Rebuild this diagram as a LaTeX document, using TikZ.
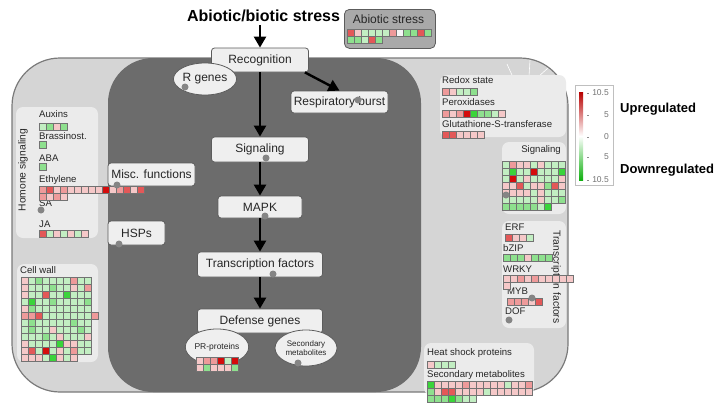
\documentclass[tikz,border=0pt]{standalone}
\usepackage{fontspec}
\setmainfont{Liberation Sans}
\usetikzlibrary{arrows.meta,shapes.geometric,positioning}

\definecolor{outerfill}{HTML}{D5D5D5}
\definecolor{outerline}{HTML}{7A7A7A}
\definecolor{darkfill}{HTML}{6C6C6C}
\definecolor{panelfill}{HTML}{EBEBEB}
\definecolor{boxfill}{HTML}{EFEFEF}
\definecolor{boxline}{HTML}{5C5C5C}
\definecolor{abiofill}{HTML}{A9A9A9}
\definecolor{dotc}{HTML}{858585}
\definecolor{cellline}{HTML}{727272}
\definecolor{r1}{HTML}{F5C8C8}
\definecolor{r2}{HTML}{EE9A9A}
\definecolor{r3}{HTML}{E35858}
\definecolor{r4}{HTML}{D40C0C}
\definecolor{g1}{HTML}{C2EEC2}
\definecolor{g2}{HTML}{8EE08E}
\definecolor{g3}{HTML}{3AD43A}
\definecolor{w0}{HTML}{F6F6F6}
\definecolor{updark}{HTML}{B80000}
\definecolor{downdark}{HTML}{10B010}

% one row of heatmap cells: x, y, colours
\newcommand{\hmrow}[3]{%
  \foreach \col [count=\i from 0] in {#3}
    \draw[cell,fill=\col] ({#1+7*\i},#2) rectangle ++(7,7);}

\begin{document}
\begin{tikzpicture}
  [x=1pt,y=-1pt,
  box/.style={draw=boxline,fill=boxfill,rounded corners=3pt,line width=0.8pt,inner sep=0pt,
    font=\fontsize{12}{14}\selectfont,text=black!85},
  oval/.style={ellipse,draw=boxline,fill=boxfill,line width=0.8pt,inner sep=0pt,text=black!85},
  panel/.style={fill=panelfill,rounded corners=7pt},
  lbl/.style={anchor=west,inner sep=0pt,font=\fontsize{9.6}{11}\selectfont,text=black!85},
  tick/.style={anchor=east,inner sep=0pt,font=\fontsize{8.5}{10}\selectfont,text=black!55},
  legtxt/.style={anchor=west,inner sep=0pt,font=\bfseries\fontsize{13}{15}\selectfont},
  cell/.style={draw=cellline,line width=0.5pt},
  arr/.style={line width=2.4pt,-{Triangle[length=11pt,width=12pt]}},
  dot/.style={fill=dotc}]

  \useasboundingbox (0,0) rectangle (721,410);

  % cell regions
  \draw[fill=outerfill,draw=outerline,line width=1.2pt,rounded corners=48pt] (12,58) rectangle (568,392);
  \fill[darkfill,rounded corners=45pt] (108,58) rectangle (421,392);
  \draw[white,line width=0.6pt] (507,64) .. controls (514,80) and (522,95) .. (527,110);
  \draw[white,line width=0.6pt] (530,60) -- (527,110);
  \draw[white,line width=0.6pt] (528,86) -- (548,68);

  % light panels
  \fill[panel] (16,107) rectangle (98,238);
  \fill[panel] (17,264) rectangle (98,362);
  \fill[panel] (440,75) rectangle (566,137);
  \fill[panel] (502,142) rectangle (566,214);
  \fill[panel] (502,221) rectangle (566,328);
  \fill[panel] (424,343) rectangle (534,395);

  % pathway
  \node[font=\bfseries\fontsize{16}{18}\selectfont] (title) at (263.5,16) {Abiotic/biotic stress};
  \node[box,minimum width=97,minimum height=24] (rec) at (260,60) {Recognition};
  \node[oval,minimum width=58,minimum height=32,font=\fontsize{12}{14}\selectfont] (rgen) at (205,79) {R genes};
  \node[box,minimum width=97,minimum height=22] (resp) at (339.5,102) {Respiratory burst};
  \node[box,minimum width=97,minimum height=25] (sig) at (260,149.5) {Signaling};
  \node[box,minimum width=84,minimum height=22] (mapk) at (260,207) {MAPK};
  \node[box,minimum width=125,minimum height=25] (tf) at (260,264.5) {Transcription factors};
  \node[box,minimum width=125,minimum height=24] (def) at (260,321) {Defense genes};
  \node[oval,minimum width=60,minimum height=36,font=\fontsize{8.5}{10}\selectfont] (prp) at (217,347) {PR-proteins};
  \node[oval,minimum width=62,minimum height=36,align=center,font=\fontsize{8}{9.5}\selectfont] (secm) at (306,348) {Secondary\\metabolites};
  \node[box,minimum width=87,minimum height=23] (misc) at (151.5,174.5) {Misc. functions};
  \node[box,minimum width=57,minimum height=24] (hsps) at (136.5,233) {HSPs};

  \draw[arr] (title.south -| rec.north) -- (rec.north);
  \draw[arr] ([xshift=-4pt]rec.south east) -- (resp.north);
  \draw[arr] (rec.south) -- (sig.north);
  \draw[arr] (sig.south) -- (mapk.north);
  \draw[arr] (mapk.south) -- (tf.north);
  \draw[arr] (tf.south) -- (def.north);

  % abiotic stress
  \node[draw=boxline,fill=abiofill,rounded corners=5pt,line width=0.8pt,minimum width=91,minimum height=39,
    anchor=north west] (abio) at (344,9) {};
  \node[font=\fontsize{12}{14}\selectfont,text=black!85] (abiolbl) at (388.5,19) {Abiotic stress};
  \hmrow{347}{29}{r3,r1,g1,g1,g1,g1,r2,w0,g2,g2,r3,g2}
  \hmrow{347}{36}{g2,g2,g1,r3,g2}

  % hormone signaling
  \node[rotate=90,font=\fontsize{10.3}{12}\selectfont,text=black!85] (hormlbl) at (23,170) {Homone signaling};
  \node[lbl] (auxlbl) at (39,114) {Auxins};
  \node[lbl] (brlbl) at (39,136) {Brassinost.};
  \node[lbl] (abalbl) at (39,158) {ABA};
  \node[lbl] (ethlbl) at (39,180) {Ethylene};
  \node[lbl] (salbl) at (39,203) {SA};
  \node[lbl] (jalbl) at (39,224) {JA};
  \hmrow{39}{123}{g1,g2,r1,g2}
  \hmrow{39}{141}{g2}
  \hmrow{39}{163}{g2}
  \hmrow{39}{186}{r2,r3,r1,r2,r1,r1,r1,r1,r1,r4,r1,r2,r3,r1,r3}
  \hmrow{39}{193}{r2,r1,r2,r1}
  \hmrow{39}{230}{r3,g1,r1,g1,r1,g1,r1}

  % cell wall
  \node[lbl] (cwlbl) at (20,270) {Cell wall};
  \hmrow{21}{277}{r1,g1,g2,g1,g1,g1,g1,r2,g1,g1}
  \hmrow{21}{284}{r1,g1,g1,g1,g2,g1,g1,r1,g1,r2}
  \hmrow{21}{291}{r1,g1,g1,r3,g1,g1,g3,g1,g1,g1}
  \hmrow{21}{298}{g1,g3,g1,g1,g2,g1,g1,g1,g1,g2}
  \hmrow{21}{305}{r1,g2,g1,g1,g1,g1,g1,g1,g1,g1}
  \hmrow{21}{312}{r2,r2,r3,g1,g1,g1,g1,g1,g1,g1,r2}
  \hmrow{21}{319}{g1,g2,g1,g1,g1,g1,g1,g2,g1,g1}
  \hmrow{21}{326}{g1,g2,g1,g1,r1,g1,g1,g1,g2,g1}
  \hmrow{21}{333}{g1,g1,g1,g2,g1,r1,g1,g1,g1,r1}
  \hmrow{21}{340}{r1,g1,g1,g1,g1,g3,r1,r1,g1,g1}
  \hmrow{21}{347}{r1,r3,g1,r4,g1,r1,g1,r2,g1,g1}
  \hmrow{21}{354}{r1,r1,r1,g1,g3,r1,g1,r1}

  % redox
  \node[lbl] (redlbl) at (442,80) {Redox state};
  \node[lbl] (perlbl) at (442,102) {Peroxidases};
  \node[lbl] (gstlbl) at (442,124) {Glutathione-S-transferase};
  \hmrow{442}{88}{r2,r1,g1,g1,g2}
  \hmrow{442}{110}{r2,r1,r2,r4,g3,g2,g2,g1,r1}
  \hmrow{442}{131}{r3,r3,r1,r1,r1,r1}

  % signaling
  \node[lbl,anchor=east] (siglbl) at (561,150) {Signaling};
  \hmrow{502}{161}{g1,r2,r1,r1,g1,r1,g1,g1,g1}
  \hmrow{502}{168}{g1,g3,g1,g1,r4,g1,g1,g1,g3}
  \hmrow{502}{175}{g1,r4,g1,r1,g1,g1,g1,g1,r1}
  \hmrow{502}{182}{r1,r1,r3,g1,r1,r1,g2,r3,r1}
  \hmrow{502}{189}{r1,r1,r1,r1,g1,r1,g1,g1,g1}
  \hmrow{502}{196}{g1,g1,g1,g1,g1,r1,g1,g1,g2}
  \hmrow{502}{203}{g2,g2,g2,g2,g2,g1,g3}

  % transcription factors
  \node[rotate=-90,font=\fontsize{10.3}{12}\selectfont,text=black!85] (tflbl) at (556,277) {Transcription factors};
  \node[lbl] (erflbl) at (505,227) {ERF};
  \node[lbl] (bziplbl) at (503,248) {bZIP};
  \node[lbl] (wrkylbl) at (503,269) {WRKY};
  \node[lbl] (myblbl) at (507,291) {MYB};
  \node[lbl] (doflbl) at (505,311) {DOF};
  \hmrow{505}{234}{r3,r1,r1,g1}
  \hmrow{503}{254}{g2,g2,g2,r1,g2,g2,g2}
  \hmrow{503}{275}{r1,r1,r2,r1,r2,r1,r1,r1,r1,r1}
  \hmrow{503}{282}{r1}
  \hmrow{507}{298}{r2,r2,r2,r1,r3}

  % heat shock / secondary metabolites
  \node[lbl] (hsplbl) at (427,353) {Heat shock proteins};
  \node[lbl] (seclbl) at (427,375) {Secondary metabolites};
  \hmrow{427}{361}{r1,g1,g1,g1}
  \hmrow{427}{381}{g3,r1,r1,r1,r1,r2,r1,r1,r1,r1,r1,g1,r1,r1,r2}
  \hmrow{427}{388}{g2,r1,r3,r3,r1,r1,r1,r1,g1,r1,r1,r1,r1,r1,r1}
  \hmrow{427}{395}{g2,g2,g2,g3,g2,g1,g1}

  % PR-proteins
  \hmrow{196}{357}{r1,r2,r2,r4,g1,r4}
  \hmrow{196}{364}{r1,g2,r1,r1,r1,g2}

  % dots
  \fill[dot] (185,87) circle (3.5);
  \fill[dot] (358,100) circle (3.5);
  \fill[dot] (266,158) circle (3.5);
  \fill[dot] (265,216) circle (3.5);
  \fill[dot] (273,274) circle (3.5);
  \fill[dot] (117,185) circle (3.5);
  \fill[dot] (119,244) circle (3.5);
  \fill[dot] (298,363) circle (3.5);
  \fill[dot] (41,210) circle (3.5);
  \fill[dot] (506,195) circle (3.5);
  \fill[dot] (532,298) circle (3.5);
  \fill[dot] (509,320) circle (3.5);

  % legend
  \node[draw=black!25,fill=white,minimum width=38,minimum height=100,inner sep=0pt,anchor=north west] (legend) at (575,85) {};
  \shade[top color=updark,bottom color=downdark,middle color=white] (579,92) rectangle (583,180);
  \foreach \y in {93,115,137,157,180}
    \draw[black!45] (587,\y) -- (589,\y);
  \node[tick] (t1) at (609,93) {10.5};
  \node[tick] (t2) at (609,115) {5};
  \node[tick] (t3) at (609,137) {0};
  \node[tick] (t4) at (609,157) {5};
  \node[tick] (t5) at (609,180) {10.5};
  \node[legtxt] (uplbl) at (620,109) {Upregulated};
  \node[legtxt] (downlbl) at (620,170) {Downregulated};

\end{tikzpicture}
\end{document}
